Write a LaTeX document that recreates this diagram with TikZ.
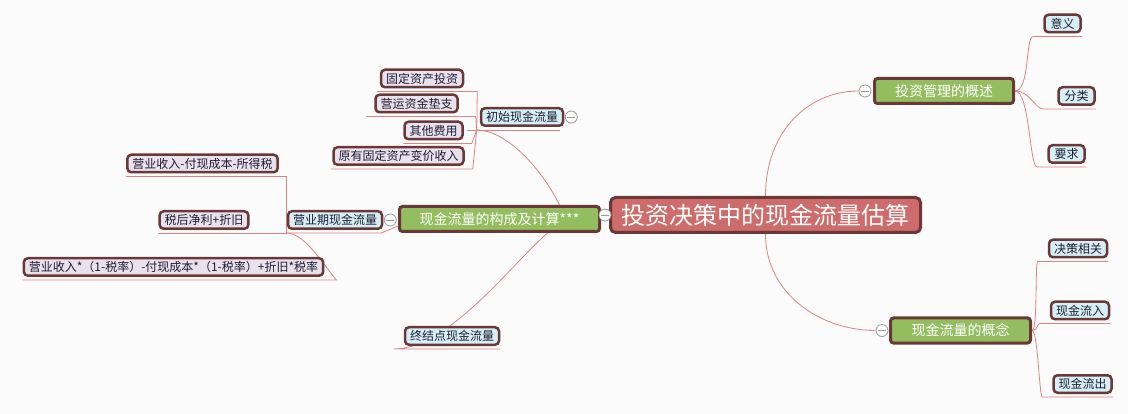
\documentclass[tikz,border=0pt]{standalone}
\usepackage{fontspec}
\newfontfamily\cjk{Noto Sans CJK SC}
\usepackage{tikz}
\usetikzlibrary{backgrounds,calc}
\usepackage{xcolor}
\definecolor{bgcol}{HTML}{FBFBFB}
\definecolor{rootred}{HTML}{CD6C6B}
\definecolor{rim}{HTML}{6B3838}
\definecolor{leafgreen}{HTML}{93BD5E}
\definecolor{iceblue}{HTML}{D6EEF5}
\definecolor{lilac}{HTML}{E9E1EC}
\definecolor{linkred}{HTML}{DC8282}
\definecolor{inkdark}{HTML}{1E1E32}

\begin{document}
\begin{tikzpicture}[x=1pt, y=-1pt,
    topic/.style={draw=rim, rounded corners=4pt, line width=2.5pt, text=inkdark,
      font=\cjk\fontsize{12}{14}\selectfont, minimum height=17.5pt, minimum width=36pt,
      inner xsep=5pt, inner ysep=0pt},
    sub/.style={topic, fill=iceblue},
    detail/.style={topic, fill=lilac},
    main/.style={draw=rim, fill=leafgreen, rounded corners=3pt, line width=3pt, text=white,
      font=\cjk\fontsize{14}{16}\selectfont, minimum height=25pt},
    central/.style={draw=rim, fill=rootred, rounded corners=5pt, line width=3pt, text=white,
      font=\cjk\fontsize{24}{28}\selectfont, minimum width=310pt, minimum height=35pt},
    fold/.style={circle, draw=gray!80, fill=white, line width=0.8pt, minimum size=12pt, inner sep=0pt,
      path picture={\draw[gray!80, line width=0.8pt] ([xshift=-4pt]path picture bounding box.center) -- ([xshift=4pt]path picture bounding box.center);}},
    link/.style={draw=linkred, line width=0.8pt}]
    \useasboundingbox (0,0) rectangle (1128,414);

    \node[central] (root) at (765.5,215) {投资决策中的现金流量估算};
    \node[main, minimum width=139pt] (gaishu) at (944,91) {投资管理的概述};
    \node[main, minimum width=140pt] (gainian) at (960.5,330.5) {现金流量的概念};
    \node[main, minimum width=200pt] (goucheng) at (499.5,219) {现金流量的构成及计算***};

    \node[sub] (yiyi) at (1062.5,23.5) {意义};
    \node[sub] (fenlei) at (1076.5,96) {分类};
    \node[sub] (yaoqiu) at (1066.5,154) {要求};
    \node[sub] (xiangguan) at (1078,248.5) {决策相关};
    \node[sub] (liuru) at (1080,310.5) {现金流入};
    \node[sub] (liuchu) at (1082.5,384) {现金流出};

    \node[sub] (chushi) at (522,117) {初始现金流量};
    \node[sub] (yingye) at (335,220) {营业期现金流量};
    \node[sub] (zhongjie) at (452,336) {终结点现金流量};
    \node[detail] (guding) at (422,78.5) {固定资产投资};
    \node[detail] (dianzhi) at (416.5,103.5) {营运资金垫支};
    \node[detail] (qita) at (433.5,130.5) {其他费用};
    \node[detail] (bianjia) at (398.5,156) {原有固定资产变价收入};
    \node[detail] (suodeshui) at (202.5,163.5) {营业收入-付现成本-所得税};
    \node[detail] (jingli) at (204,220) {税后净利+折旧};
    \node[detail] (shuilv) at (173.5,267) {营业收入*（1-税率）-付现成本*（1-税率）+折旧*税率};

    \node[fold] (f-root) at ([xshift=-4pt]root.west) {};
    \node[fold] (f-gaishu) at ([xshift=-8pt]gaishu.west) {};
    \node[fold] (f-gainian) at ([xshift=-7pt]gainian.west) {};
    \node[fold] (f-chushi) at ([xshift=7pt]chushi.east) {};
    \node[fold] (f-yingye) at ([xshift=7pt]yingye.east) {};

    \coordinate (j1) at ([xshift=-3pt,yshift=-3pt]chushi.south west);
    \coordinate (j2) at ([yshift=-3pt]yingye.south west);

    \begin{scope}[on background layer]
        \fill[bgcol] (0,0) rectangle (1128,414);
        \draw[link] (root.north) .. controls +(0,-65) and +(-50,0) .. (f-gaishu.west);
        \draw[link] (root.south) .. controls +(0,60) and +(-55,0) .. (f-gainian.west);

        \draw[link] (gaishu.east) .. controls +(15,0) and +(-8,0) .. ([xshift=-10pt,yshift=-3pt]yiyi.south west) -- ([yshift=-3pt]yiyi.south east);
        \draw[link] (gaishu.east) .. controls +(15,0) and +(-8,0) .. ([xshift=-14pt,yshift=-3pt]fenlei.south west) -- ([yshift=-3pt]fenlei.south east);
        \draw[link] (gaishu.east) .. controls +(15,0) and +(-8,0) .. ([xshift=-10pt,yshift=-3pt]yaoqiu.south west) -- ([yshift=-3pt]yaoqiu.south east);
        \draw[link] (gainian.east) .. controls +(6,0) and +(-3,0) .. ([xshift=-10pt,yshift=-3pt]xiangguan.south west) -- ([yshift=-3pt]xiangguan.south east);
        \draw[link] (gainian.east) .. controls +(6,0) and +(-3,0) .. ([xshift=-10pt,yshift=-3pt]liuru.south west) -- ([yshift=-3pt]liuru.south east);
        \draw[link] (gainian.east) .. controls +(6,0) and +(-3,0) .. ([xshift=-10pt,yshift=-3pt]liuchu.south west) -- ([yshift=-3pt]liuchu.south east);

        \draw[link] ([xshift=60pt]goucheng.north) .. controls +(-20,-40) and +(28,0) .. (j1);
        \draw[link] ([xshift=-10pt]j1) -- ([xshift=-4pt,yshift=-3pt]chushi.south east);
        \draw[link] (j1) -- ([xshift=13pt,yshift=-3pt]guding.south east) -- ([xshift=-3pt,yshift=-3pt]guding.south west);
        \draw[link] (j1) -- ([xshift=17pt,yshift=-3pt]dianzhi.south east) -- ([xshift=-8pt,yshift=-3pt]dianzhi.south west);
        \draw[link] (j1) -- ([xshift=8pt,yshift=-3pt]qita.south east) -- ([yshift=-3pt]qita.south west);
        \draw[link] (j1) -- ([xshift=8pt,yshift=-3pt]bianjia.south east) -- ([xshift=-1.5pt,yshift=-3pt]bianjia.south west);

        \draw[link] ([yshift=-7pt]goucheng.west) -- ([xshift=-2pt,yshift=-3pt]yingye.south east) -- (j2);
        \draw[link] (j2) |- ([yshift=-3pt]suodeshui.south west);
        \draw[link] (j2) -- ([yshift=-3pt]jingli.south west);
        \draw[link] (j2) .. controls +(18,0) and +(-12,-14) .. ([xshift=12pt,yshift=-3pt]shuilv.south east) -- ([yshift=-3pt]shuilv.south west);

        \draw[link] ([xshift=48pt]goucheng.south) .. controls +(-35,30) and +(55,0) .. ([xshift=-10pt,yshift=-3pt]zhongjie.south west) -- ([yshift=-3pt]zhongjie.south east);
    \end{scope}
\end{tikzpicture}
\end{document}
